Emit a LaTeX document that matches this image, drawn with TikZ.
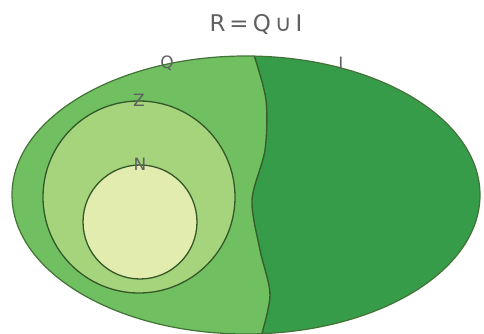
\documentclass[tikz,border=0pt]{standalone}
\usepackage{fontspec}
\setmainfont{DejaVu Sans}
\usepackage{tikz}
\usetikzlibrary{positioning}
\definecolor{qgreen}{RGB}{112,192,98}
\definecolor{igreen}{RGB}{54,156,74}
\definecolor{zgreen}{RGB}{165,212,125}
\definecolor{ngreen}{RGB}{226,236,174}
\definecolor{setline}{RGB}{52,88,40}
\definecolor{lblgray}{RGB}{96,96,96}

\begin{document}
\begin{tikzpicture}[
    x=1pt, y=-1pt,
    set/.style={circle, draw=setline, line width=1.3pt},
    lbl/.style={font=\fontsize{17}{17}\selectfont, text=lblgray, inner sep=0pt}
]
    \useasboundingbox (0,0) rectangle (484,334);
    \fill[igreen] (246,195) ellipse [x radius=234, y radius=139];
    \begin{scope}
        \clip (246,195) ellipse [x radius=234, y radius=139];
        \fill[qgreen] (0,0) -- (254,0) -- plot[smooth] coordinates {(254,55) (266,100) (265,150) (252,200) (260,250) (270,295) (260,340)} -- (0,340) -- cycle;
        \draw[setline!90!igreen, line width=1.4pt] plot[smooth] coordinates {(254,55) (266,100) (265,150) (252,200) (260,250) (270,295) (260,340)};
    \end{scope}
    \draw[setline!75!qgreen, line width=1.2pt] (246,195) ellipse [x radius=234, y radius=139];
    \node[set, fill=zgreen, minimum size=192pt] (Z) at (139,197) {};
    \node[set, fill=ngreen, minimum size=114pt] (N) at (140,222) {};
    \node[lbl, font=\fontsize{23}{23}\selectfont] (title) at (256,24) {R\hspace{4pt}=\hspace{4pt}Q\hspace{4pt}∪\hspace{4pt}I};
    \node[lbl] (qlbl) at (167,63) {Q};
    \node[lbl] (ilbl) at (341,63) {I};
    \node[lbl] (zlbl) at (Z.north) {Z};
    \node[lbl] (nlbl) at (N.north) {N};
\end{tikzpicture}
\end{document}
